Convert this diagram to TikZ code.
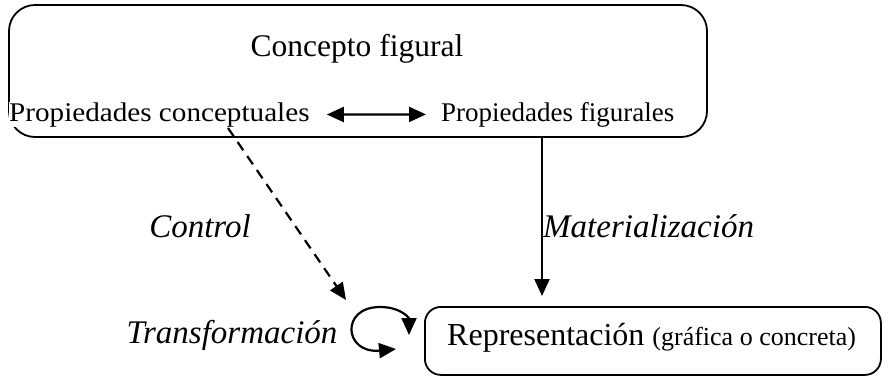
\documentclass[tikz,border=0pt]{standalone}
\usepackage{fontspec}
\setmainfont{Liberation Serif}
\newfontfamily\widerm[FakeStretch=1.08]{Liberation Serif}
\usetikzlibrary{arrows.meta}
\tikzset{
  box/.style={draw, line width=1.8pt},
  conn/.style={line width=2.2pt},
  tip/.style={-{Triangle[length=17pt,width=15pt]}},
  twotip/.style={{Triangle[length=17pt,width=15pt]}-{Triangle[length=17pt,width=15pt]}},
  big/.style={font=\fontsize{31.5}{36}\selectfont},
  mid/.style={font=\fontsize{27}{31}\selectfont},
  lab/.style={font=\fontsize{33}{38}\selectfont\itshape},
}
\begin{document}
\begin{tikzpicture}[x=1pt,y=-1pt]
\useasboundingbox (0,0) rectangle (893,376);
\draw[box, rounded corners=26pt] (9,5) rectangle (707,137);
\node[big, anchor=base] (cf) at (357,56) {Concepto figural};
\node[font=\widerm\fontsize{27}{31}\selectfont, anchor=base west, inner sep=0pt, fill=white] (pc) at (9,121) {Propiedades conceptuales};
\node[mid, anchor=base west, inner sep=0pt] (pf) at (441,121) {Propiedades figurales};
\draw[conn, twotip] ([xshift=17pt]pc.east) -- ([xshift=-15pt]pf.west);
\node[box, rounded corners=16pt, minimum width=456pt, minimum height=68pt, anchor=north west, inner sep=0pt] (rep) at (424,306) {};
\node[anchor=base west, inner sep=0pt] (rt) at (447,345) {\fontsize{32}{36}\selectfont Representación \fontsize{26}{30}\selectfont (gráfica o concreta)};
\coordinate (mtop) at (542,137);
\draw[conn, tip] (mtop) -- ([yshift=10pt]mtop |- rep.north);
\coordinate (ds) at (228,128);
\coordinate (de) at (346,300);
\draw[conn, tip, dash pattern=on 10pt off 7pt] (ds) -- (de);
\node[lab, anchor=base] (ctl) at (200,237) {Control};
\node[lab, anchor=base west, inner sep=0pt] (mat) at (543,237) {Materialización};
\node[lab, anchor=base] (tr) at (232,343) {Transformación};
\coordinate (la) at (396,349);
\coordinate (lb) at (409,335);
\draw[conn, twotip] (la) .. controls (344,354) and (340,307) .. (380,307) .. controls (401,307) and (409,318) .. (lb);
\end{tikzpicture}
\end{document}
